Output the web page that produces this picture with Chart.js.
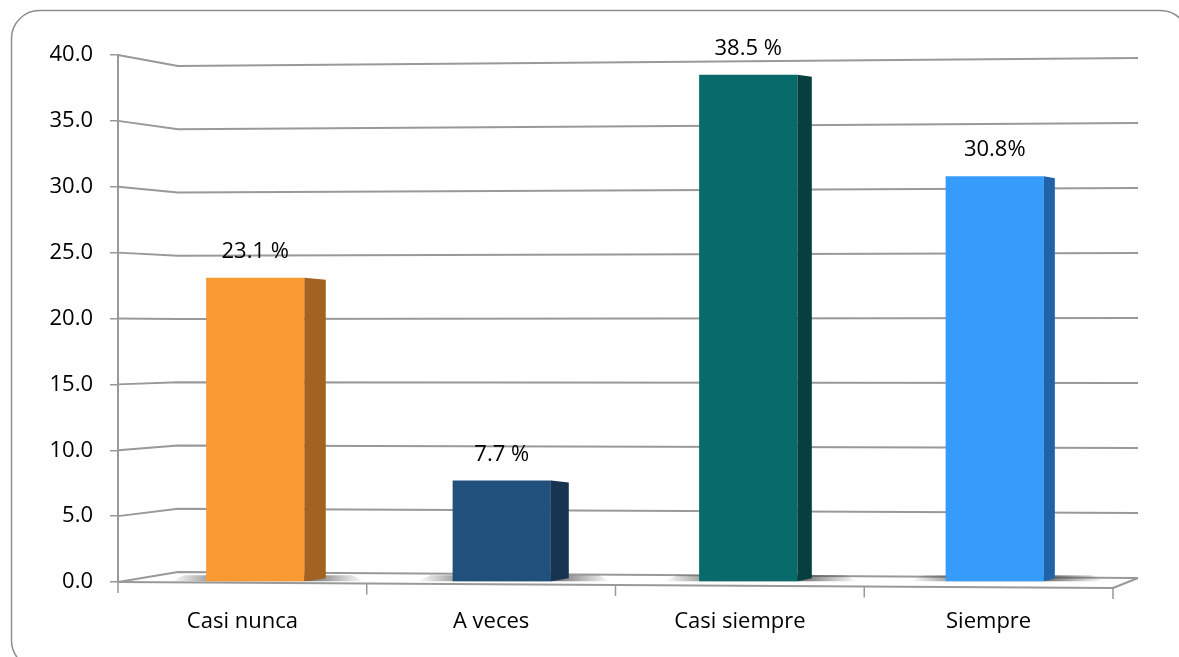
<!DOCTYPE html>
<html>
<head>
<meta charset="utf-8">
<script src="https://cdn.jsdelivr.net/npm/chart.js@4.4.1/dist/chart.umd.min.js"></script>
<style>
  html, body { margin: 0; padding: 0; background: #fff; overflow: hidden; }
  canvas { display: block; }
</style>
</head>
<body>
<canvas id="myChart" width="1179" height="657"></canvas>
<script>
const categories = ['Casi nunca', 'A veces', 'Casi siempre', 'Siempre'];
const percentages = [23.1, 7.7, 38.5, 30.8];
const labelSuffix = [' %', ' %', ' %', '%'];
const frontColors = ['#f99a32', '#21507c', '#086a6a', '#359cfc'];
const sideColors = ['#a3621f', '#183450', '#053f3f', '#2063a8'];
const yMax = 40;
const yStep = 5;

const FONT = "'Open Sans', sans-serif";
const gridColor = '#999';

function lerp(a, b, t) { return a + (b - a) * t; }

// bars stand a little behind the front plane, more so on the left
function barShift(chart, x) {
    const { left, right } = chart.chartArea;
    return lerp(14, 5, (x - left) / (right - left));
}

// rounded frame round the whole chart
const frame = {
    id: 'frame',
    beforeDraw(chart) {
        const ctx = chart.ctx;
        ctx.save();
        ctx.fillStyle = '#fff';
        ctx.fillRect(0, 0, chart.width, chart.height);
        ctx.beginPath();
        ctx.roundRect(11.5, 10.5, 1177, 658, 28);
        ctx.strokeStyle = '#8e8e8e';
        ctx.lineWidth = 1.5;
        ctx.stroke();
        ctx.restore();
    }
};

// back wall, floor and the side faces of the bars
const room3d = {
    id: 'room3d',
    afterDatasetsUpdate(chart) {
        chart.getDatasetMeta(0).data.forEach(bar => {
            bar.x += barShift(chart, bar.x);
        });
    },
    beforeDatasetsDraw(chart) {
        const { ctx, chartArea: { left, right, top, bottom } } = chart;
        const y = chart.scales.y;
        const backL = left + 60, backR = right + 25;
        const drop = 6;
        ctx.save();
        ctx.strokeStyle = gridColor;
        ctx.lineWidth = 2;
        ctx.lineJoin = 'round';
        y.ticks.forEach(tk => {
            const py = y.getPixelForValue(tk.value);
            const t = (bottom - py) / (bottom - top);
            ctx.beginPath();
            ctx.moveTo(left, py);
            ctx.lineTo(backL, py + lerp(-10, 11, t));
            ctx.lineTo(backR, py + lerp(-4, 3, t));
            ctx.stroke();
        });

        // front edge of the floor
        ctx.beginPath();
        ctx.moveTo(left, bottom);
        ctx.lineTo(right, bottom + drop);
        ctx.lineTo(backR, bottom - 4);
        ctx.stroke();

        // category tick marks
        ctx.lineWidth = 1.5;
        for (let i = 0; i <= categories.length; i++) {
            const px = left + i * (right - left) / categories.length;
            const py = bottom + drop * i / categories.length;
            ctx.beginPath();
            ctx.moveTo(px, py);
            ctx.lineTo(px, py + 11);
            ctx.stroke();
        }

        // soft shadows on the floor
        chart.getDatasetMeta(0).data.forEach(bar => {
            const xl = bar.x - bar.width / 2;
            const xr = bar.x + bar.width / 2 + 20;
            const g = ctx.createLinearGradient(xl - 35, 0, xr + 40, 0);
            g.addColorStop(0, 'rgba(60,60,60,0)');
            g.addColorStop(0.3, 'rgba(60,60,60,0.75)');
            g.addColorStop(0.7, 'rgba(60,60,60,0.75)');
            g.addColorStop(1, 'rgba(60,60,60,0)');
            ctx.fillStyle = g;
            ctx.beginPath();
            ctx.moveTo(xl - 35, bar.base);
            ctx.lineTo(xr + 40, bar.base);
            ctx.lineTo(xr + 28, bar.base - 6);
            ctx.lineTo(xl - 22, bar.base - 6);
            ctx.closePath();
            ctx.fill();
        });
        ctx.restore();
    },
    afterDatasetsDraw(chart) {
        const { ctx, chartArea: { left, right } } = chart;
        ctx.save();
        chart.getDatasetMeta(0).data.forEach((bar, i) => {
            const xr = bar.x + bar.width / 2;
            const dx = lerp(24, 10, (xr - left) / (right - left));
            ctx.beginPath();
            ctx.moveTo(xr, bar.y);
            ctx.lineTo(xr + dx, bar.y + 2);
            ctx.lineTo(xr + dx, bar.base - 3);
            ctx.lineTo(xr, bar.base);
            ctx.closePath();
            ctx.fillStyle = sideColors[i];
            ctx.fill();
        });

        // value labels over the bars
        ctx.font = '22px ' + FONT;
        ctx.fillStyle = '#000';
        ctx.textAlign = 'center';
        ctx.textBaseline = 'middle';
        chart.getDatasetMeta(0).data.forEach((bar, i) => {
            ctx.fillText(percentages[i].toFixed(1) + labelSuffix[i], bar.x, bar.y - 26);
        });
        ctx.restore();
    }
};

const ctx = document.getElementById('myChart').getContext('2d');
new Chart(ctx, {
    type: 'bar',
    data: {
        labels: categories,
        datasets: [{
            data: percentages,
            backgroundColor: frontColors,
            borderWidth: 0,
            barPercentage: 0.395,
            categoryPercentage: 1
        }]
    },
    options: {
        responsive: false,
        animation: false,
        layout: { padding: { top: 55, right: 66, bottom: 0, left: 0 } },
        plugins: {
            legend: { display: false },
            tooltip: { enabled: false }
        },
        scales: {
            x: {
                grid: { display: false, drawTicks: false },
                border: { display: false },
                ticks: { color: '#000', font: { size: 22, family: FONT }, padding: 27 },
                afterFit(scale) { scale.height = 75; }
            },
            y: {
                min: 0,
                max: yMax,
                ticks: {
                    stepSize: yStep,
                    color: '#000',
                    font: { size: 22, family: FONT },
                    padding: 17,
                    callback: v => v.toFixed(1)
                },
                grid: { drawOnChartArea: false, drawTicks: true, tickLength: 8, color: gridColor, lineWidth: 1.5 },
                border: { display: true, color: gridColor, width: 2 },
                afterFit(scale) { scale.width = 118; }
            }
        }
    },
    plugins: [frame, room3d]
});
</script>
</body>
</html>
